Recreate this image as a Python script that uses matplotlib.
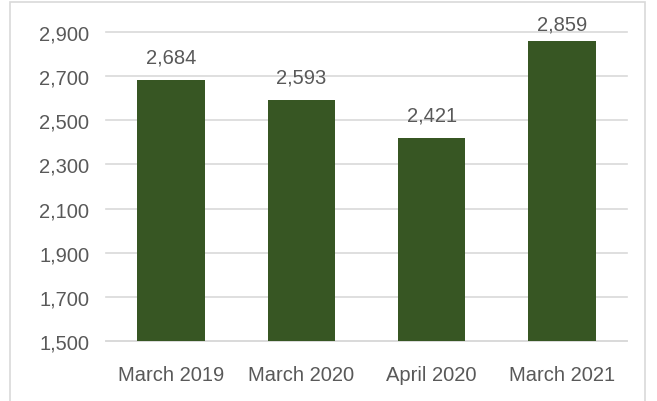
import matplotlib
matplotlib.use("Agg")
import matplotlib.pyplot as plt
from matplotlib.patches import Rectangle
from matplotlib.ticker import FuncFormatter

categories = ["March 2019", "March 2020", "April 2020", "March 2021"]
values = [2684, 2593, 2421, 2859]
yticks = [1500, 1700, 1900, 2100, 2300, 2500, 2700, 2900]

plt.rcParams['font.family'] = ['Liberation Sans', 'DejaVu Sans']

W, H = 657, 402
fig = plt.figure(figsize=(W/100, H/100), dpi=100)
fig.patches.append(Rectangle((10/W, -0.05), (645-10)/W, 1.05 - 3/H,
                             transform=fig.transFigure, fill=False,
                             edgecolor="#D9D9D9", linewidth=1.2))
ax = fig.add_axes([106/W, 1-342/H, (627-106)/W, (342-33)/H])

x = list(range(len(categories)))
ax.bar(x, values, width=0.52, color="#375623", zorder=3)
ax.set_xlim(-0.5, len(categories)-0.5)
ax.set_ylim(yticks[0], yticks[-1])
ax.set_yticks(yticks)
ax.yaxis.set_major_formatter(FuncFormatter(lambda v, p: f"{int(v):,}"))
ax.set_xticks(x)
ax.set_xticklabels(categories)
ax.grid(axis="y", color="#D9D9D9", linewidth=1.2, zorder=0, clip_on=False)
for s in ax.spines.values():
    s.set_visible(False)
ax.spines['bottom'].set_visible(True)
ax.spines['bottom'].set_color("#D9D9D9")
ax.spines['bottom'].set_linewidth(1.2)
ax.tick_params(axis="both", length=0, labelsize=14.5, colors="#595959")
ax.tick_params(axis="x", pad=17)
ax.tick_params(axis="y", pad=12)

# data labels: centred ~23 px above bar top, kept inside the chart frame
for xi, v in zip(x, values):
    _, ypix = ax.transData.transform((xi, v))
    ytext = min(ypix + 23, H - 25)
    yd = ax.transData.inverted().transform((0, ytext))[1]
    ax.text(xi, yd, f"{v:,}", ha="center", va="center", fontsize=14.5,
            color="#595959", clip_on=False)

fig.savefig("out.png", dpi=100)
